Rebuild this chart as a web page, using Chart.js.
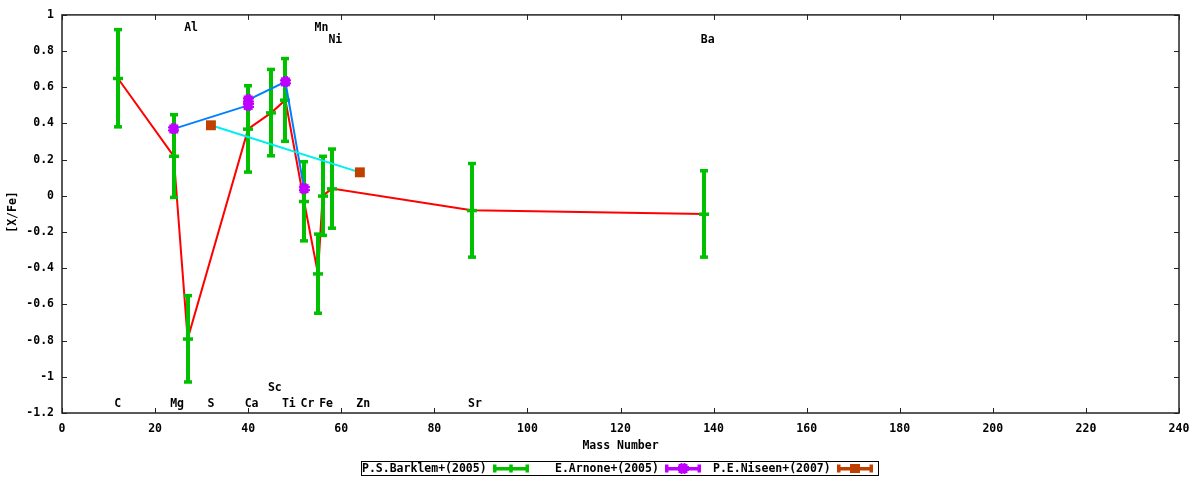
<!DOCTYPE html>
<html>
<head>
<meta charset="utf-8">
<script src="https://cdn.jsdelivr.net/npm/chart.js@4.4.1/dist/chart.umd.min.js"></script>
<style>
  html, body { margin: 0; padding: 0; background: #fff; }
  #wrap { width: 1200px; height: 480px; }
</style>
</head>
<body>
<div id="wrap"><canvas id="grapharea" width="1200" height="480"></canvas></div>
<script>
// P.S.Barklem+(2005): mass number, [X/Fe], error
const barklemMass = [12, 24, 27, 40, 45, 48, 52, 55, 56, 58, 88, 138];
const barklemVal  = [0.65, 0.22, -0.79, 0.37, 0.46, 0.53, -0.03, -0.43, 0.00, 0.04, -0.08, -0.10];
const barklemErr  = [0.27, 0.23, 0.24, 0.24, 0.24, 0.23, 0.22, 0.22, 0.22, 0.22, 0.26, 0.24];

// E.Arnone+(2005)
const arnoneMass = [24, 40, 40, 48, 52];
const arnoneVal  = [0.37, 0.50, 0.53, 0.63, 0.04];

// P.E.Niseen+(2007)
const niseenMass = [32, 64];
const niseenVal  = [0.39, 0.13];

// element labels
const elemNames = ['C', 'Mg', 'Al', 'S', 'Ca', 'Sc', 'Ti', 'Cr', 'Mn', 'Fe', 'Ni', 'Zn', 'Sr', 'Ba'];
const elemMass  = [12, 24, 27, 32, 40, 45, 48, 52, 55, 56, 58, 64, 88, 138];
const elemY     = [-1.15, -1.15, 0.93, -1.15, -1.15, -1.06, -1.15, -1.15, 0.93, -1.15, 0.86, -1.15, -1.15, 0.86];

const legendNames = ['P.S.Barklem+(2005)', 'E.Arnone+(2005)', 'P.E.Niseen+(2007)'];

const RED = '#ff0000', GREEN = '#00c000', BLUE = '#0080ff', PURPLE = '#c000ff', CYAN = '#00eeee', BROWN = '#c04000';
const FONT = "'DejaVu Sans Mono', 'Liberation Mono', monospace";

function toPoints(xs, ys){
    return xs.map((x, i) => ({x: x, y: ys[i]}));
}

// purple marker (bumpy filled box)
function makeStar(color){
    let c = document.createElement('canvas');
    c.width = 11; c.height = 11;
    let g = c.getContext('2d');
    g.fillStyle = color;
    g.fillRect(1, 1, 9, 9);
    g.fillRect(0, 3, 11, 2);
    g.fillRect(0, 6, 11, 2);
    g.fillRect(3, 0, 2, 11);
    g.fillRect(6, 0, 2, 11);
    return c;
}
const starImg = makeStar(PURPLE);

const errorBars = {
    id: 'errorBars',
    afterDatasetDraw(chart, args){
        if (args.index !== 0) return;
        const ctx = chart.ctx, xs = chart.scales.x, ys = chart.scales.y;
        ctx.save();
        ctx.fillStyle = GREEN;
        barklemMass.forEach((m, i) => {
            let px = Math.round(xs.getPixelForValue(m));
            let top = ys.getPixelForValue(barklemVal[i] + barklemErr[i]);
            let bot = ys.getPixelForValue(barklemVal[i] - barklemErr[i]);
            let mid = ys.getPixelForValue(barklemVal[i]);
            ctx.fillRect(px - 2, top, 4, bot - top);
            ctx.fillRect(px - 4, top - 1.5, 8, 3.5);
            ctx.fillRect(px - 4, bot - 2, 8, 3.5);
            ctx.fillRect(px - 5, mid - 1.5, 10, 3.5);
        });
        ctx.restore();
    }
};

function drawSample(ctx, x1, x2, y, color, kind){
    ctx.fillStyle = color;
    ctx.fillRect(x1, y - 1.5, x2 - x1, 3.5);
    ctx.fillRect(x1, y - 4, 3.5, 8);
    ctx.fillRect(x2 - 3.5, y - 4, 3.5, 8);
    let xm = (x1 + x2) / 2;
    if (kind === 'tick') ctx.fillRect(xm - 1.75, y - 4, 3.5, 8);
    if (kind === 'star') ctx.drawImage(starImg, xm - 5.5, y - 5.5);
    if (kind === 'square') ctx.fillRect(xm - 5, y - 4.5, 10, 9);
}

const frame = {
    id: 'frame',
    afterDraw(chart){
        const ctx = chart.ctx, a = chart.chartArea, xs = chart.scales.x, ys = chart.scales.y;
        ctx.save();
        ctx.strokeStyle = '#222';
        ctx.lineWidth = 1;
        // inward ticks on all four sides
        ctx.beginPath();
        xs.ticks.forEach(t => {
            let px = Math.round(xs.getPixelForValue(t.value)) + 0.5;
            ctx.moveTo(px, a.bottom); ctx.lineTo(px, a.bottom - 5);
            ctx.moveTo(px, a.top); ctx.lineTo(px, a.top + 5);
        });
        ys.ticks.forEach(t => {
            let py = Math.round(ys.getPixelForValue(t.value)) + 0.5;
            ctx.moveTo(a.left, py); ctx.lineTo(a.left + 5, py);
            ctx.moveTo(a.right, py); ctx.lineTo(a.right - 5, py);
        });
        ctx.stroke();
        ctx.lineWidth = 1.5;
        ctx.strokeRect(a.left, a.top, a.right - a.left, a.bottom - a.top);

        // element labels
        ctx.fillStyle = '#000';
        ctx.font = 'bold 11.5px ' + FONT;
        ctx.textAlign = 'left';
        ctx.textBaseline = 'middle';
        elemNames.forEach((n, i) => {
            ctx.fillText(n, xs.getPixelForValue(elemMass[i]) - 3.5, ys.getPixelForValue(elemY[i]));
        });

        // axis titles
        ctx.textAlign = 'center';
        ctx.fillText('Mass Number', (a.left + a.right) / 2, 446);
        ctx.save();
        ctx.translate(13, 212);
        ctx.rotate(-Math.PI / 2);
        ctx.fillText('[X/Fe]', 0, 0);
        ctx.restore();

        // legend
        ctx.strokeStyle = '#000';
        ctx.lineWidth = 1;
        ctx.strokeRect(361.5, 461.5, 517, 14);
        ctx.textAlign = 'left';
        ctx.fillStyle = '#000';
        ctx.fillText(legendNames[0], 362, 469);
        ctx.fillText(legendNames[1], 555, 469);
        ctx.fillText(legendNames[2], 713, 469);
        drawSample(ctx, 493, 529, 468.5, GREEN, 'tick');
        drawSample(ctx, 665, 701, 468.5, PURPLE, 'star');
        drawSample(ctx, 837, 873, 468.5, BROWN, 'square');
        ctx.restore();
    }
};

const grapharea = document.getElementById('grapharea');
let CurrencyChart = new Chart(grapharea, {
    type: 'scatter',
    data: {
        datasets: [{
            label: legendNames[0],
            data: toPoints(barklemMass, barklemVal),
            showLine: true,
            borderColor: RED,
            borderWidth: 2,
            pointRadius: 0,
            order: 3
        }, {
            label: legendNames[1],
            data: toPoints(arnoneMass, arnoneVal),
            showLine: true,
            borderColor: BLUE,
            borderWidth: 2,
            pointStyle: starImg,
            pointRadius: 5,
            order: 2
        }, {
            label: legendNames[2],
            data: toPoints(niseenMass, niseenVal),
            showLine: true,
            borderColor: CYAN,
            borderWidth: 2,
            pointStyle: 'rect',
            pointRadius: 7,
            pointBackgroundColor: BROWN,
            pointBorderWidth: 0,
            order: 1
        }]
    },
    options: {
        responsive: false,
        animation: false,
        layout: { padding: { left: 0, top: 13, right: 21, bottom: 0 } },
        plugins: { legend: { display: false }, tooltip: { enabled: false } },
        scales: {
            x: {
                type: 'linear',
                min: 0,
                max: 240,
                grid: { display: false, drawTicks: false },
                border: { display: false },
                ticks: {
                    stepSize: 20,
                    padding: 9,
                    color: '#000',
                    maxRotation: 0,
                    font: { family: FONT, size: 11.5, weight: 'bold' }
                },
                afterFit: scale => { scale.height = 67; }
            },
            y: {
                min: -1.2,
                max: 1,
                grid: { display: false, drawTicks: false },
                border: { display: false },
                ticks: {
                    stepSize: 0.2,
                    padding: 8,
                    color: '#000',
                    font: { family: FONT, size: 11.5, weight: 'bold' },
                    callback: v => String(Math.round(v * 10) / 10)
                },
                afterFit: scale => { scale.width = 62; }
            }
        }
    },
    plugins: [errorBars, frame]
});
</script>
</body>
</html>
